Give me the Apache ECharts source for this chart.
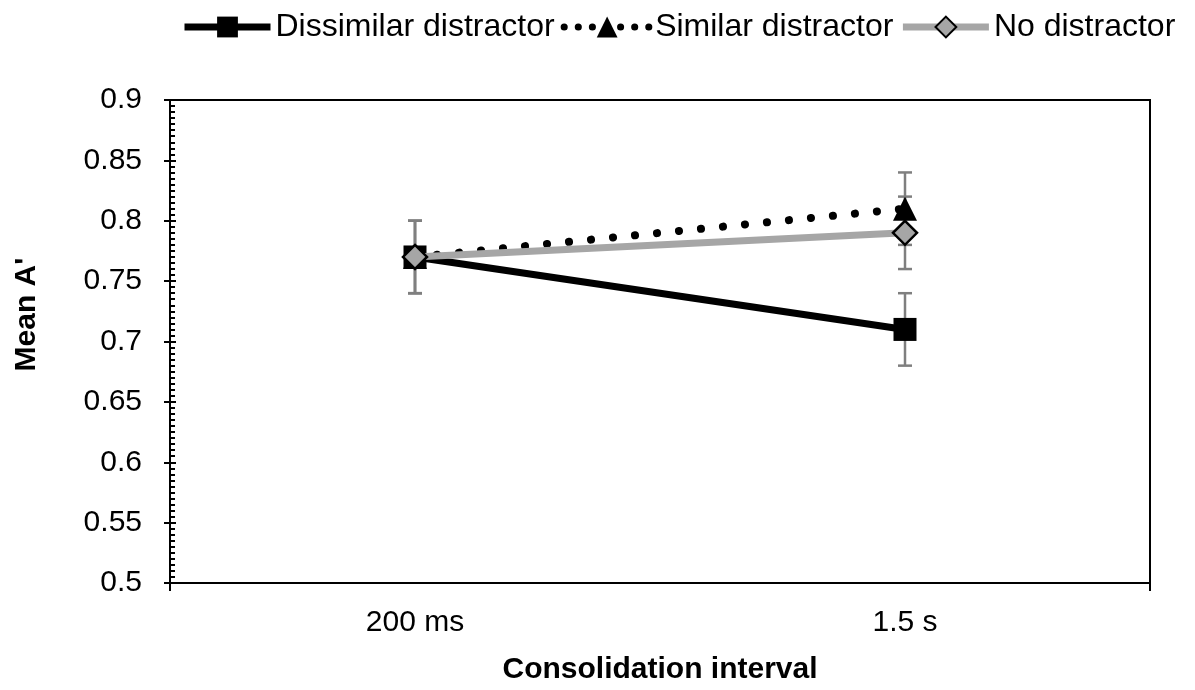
<!DOCTYPE html>
<html>
<head>
<meta charset="utf-8">
<script src="https://cdn.jsdelivr.net/npm/echarts@6/dist/echarts.min.js"></script>
<style>
  html, body { margin: 0; padding: 0; background: #fff; }
  #chart { width: 1195px; height: 690px; }
</style>
</head>
<body>
<div id="chart"></div>
<script>
// data
const categories = ['200 ms', '1.5 s']
const dissimilar = [0.77, 0.71]
const similar = [0.77, 0.81]
const noDistractor = [0.77, 0.79]
const errDissimilar = [0.03, 0.03]
const errSimilar = [0.03, 0.03]
const errNoDistractor = [0.03, 0.03]

const font = 'Liberation Sans, Arial, sans-serif'

// error bar rows: [category index, mean, error]
const errRows = []
;[[dissimilar, errDissimilar], [similar, errSimilar], [noDistractor, errNoDistractor]].forEach(([vals, errs]) => {
  vals.forEach((v, i) => errRows.push([i, v, errs[i]]))
})

const chart = echarts.init(document.getElementById('chart'))

chart.setOption({
  animation: false,
  textStyle: { fontFamily: font },
  legend: {
    top: 6,
    left: 176,
    itemWidth: 86,
    itemHeight: 26,
    itemGap: 6,
    textStyle: { fontSize: 32, color: '#000', fontFamily: font },
    data: [
      { name: 'Dissimilar distractor', lineStyle: { width: 7, color: '#000' } },
      { name: 'Similar distractor', lineStyle: { width: 7, color: '#000', type: [0.1, 14], cap: 'round' } },
      { name: 'No distractor', lineStyle: { width: 7, color: '#a6a6a6' } }
    ]
  },
  grid: {
    left: 170,
    right: 45,
    top: 100,
    bottom: 107,
    outerBoundsMode: 'none',
    show: true,
    borderColor: '#000',
    borderWidth: 2,
    backgroundColor: 'transparent'
  },
  xAxis: [
    {
      type: 'category',
      data: categories,
      boundaryGap: true,
      name: 'Consolidation interval',
      nameLocation: 'middle',
      nameGap: 72,
      nameTextStyle: { fontSize: 30, fontWeight: 'bold', color: '#000', fontFamily: font },
      axisLine: { lineStyle: { color: '#000', width: 2 } },
      axisTick: { alignWithLabel: true, length: 8, lineStyle: { color: '#000', width: 2 } },
      axisLabel: { fontSize: 30, color: '#000', margin: 25, fontFamily: font }
    },
    {
      // only draws the tick marks at the two ends of the x axis
      type: 'value',
      position: 'bottom',
      min: 0,
      max: 1,
      interval: 1,
      axisLine: { show: false },
      axisTick: { show: true, length: 8, lineStyle: { color: '#000', width: 2 } },
      axisLabel: { show: false },
      splitLine: { show: false }
    }
  ],
  yAxis: [
    {
      type: 'value',
      min: 0.5,
      max: 0.9,
      interval: 0.05,
      name: "Mean A'",
      nameLocation: 'middle',
      nameGap: 128,
      nameTextStyle: { fontSize: 30, fontWeight: 'bold', color: '#000', fontFamily: font, padding: [0, 0, 0, 54] },
      axisLine: { show: true, lineStyle: { color: '#000', width: 2 } },
      axisTick: { show: true, length: 6, lineStyle: { color: '#000', width: 2 } },
      axisLabel: { fontSize: 30, color: '#000', margin: 28, fontFamily: font },
      splitLine: { show: false }
    },
    {
      // inside major + minor ticks
      type: 'value',
      position: 'left',
      offset: 0,
      min: 0.5,
      max: 0.9,
      interval: 0.05,
      axisLine: { show: false },
      axisTick: { show: true, inside: true, length: 6, lineStyle: { color: '#000', width: 2 } },
      minorTick: { show: true, splitNumber: 10, length: 5, lineStyle: { color: '#000', width: 2 } },
      axisLabel: { show: false },
      splitLine: { show: false }
    }
  ],
  series: [
    {
      name: 'errorbars',
      type: 'custom',
      xAxisIndex: 0,
      yAxisIndex: 0,
      z: 1,
      silent: true,
      encode: { x: 0, y: 1 },
      data: errRows,
      renderItem: (params, api) => {
        const x = api.value(0)
        const v = api.value(1)
        const e = api.value(2)
        const top = api.coord([x, v + e])
        const bot = api.coord([x, v - e])
        const cap = 7
        const style = { stroke: '#7f7f7f', lineWidth: 2.5 }
        return {
          type: 'group',
          children: [
            { type: 'line', shape: { x1: top[0], y1: top[1], x2: bot[0], y2: bot[1] }, style },
            { type: 'line', shape: { x1: top[0] - cap, y1: top[1], x2: top[0] + cap, y2: top[1] }, style },
            { type: 'line', shape: { x1: bot[0] - cap, y1: bot[1], x2: bot[0] + cap, y2: bot[1] }, style }
          ]
        }
      }
    },
    {
      name: 'Dissimilar distractor',
      type: 'line',
      z: 3,
      data: dissimilar,
      symbol: 'rect',
      symbolSize: 23,
      lineStyle: { color: '#000', width: 7 },
      itemStyle: { color: '#000' }
    },
    {
      name: 'Similar distractor',
      type: 'line',
      z: 4,
      data: similar,
      symbol: 'triangle',
      symbolSize: 24,
      lineStyle: { color: '#000', width: 8, type: [0.1, 22], cap: 'round' },
      itemStyle: { color: '#000' }
    },
    {
      name: 'No distractor',
      type: 'line',
      z: 5,
      data: noDistractor,
      symbol: 'diamond',
      symbolSize: 24,
      lineStyle: { color: '#a6a6a6', width: 7 },
      itemStyle: { color: '#a6a6a6', borderColor: '#000', borderWidth: 2.5 }
    }
  ]
})
</script>
</body>
</html>
